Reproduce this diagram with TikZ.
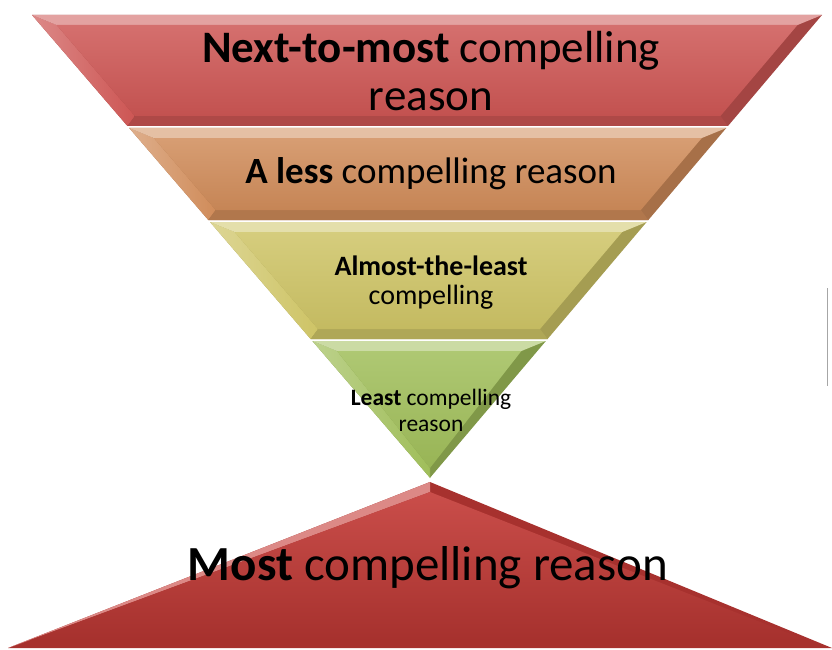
\documentclass[tikz,border=0pt]{standalone}
\usepackage{fontspec}
\setmainfont{Carlito}
\usepackage{tikz}
\usetikzlibrary{calc}
\definecolor{bandred}{RGB}{205,86,84}
\definecolor{bandorange}{RGB}{208,140,90}
\definecolor{bandyellow}{RGB}{206,196,102}
\definecolor{bandgreen}{RGB}{160,190,90}
\definecolor{mostred}{RGB}{196,58,54}
\tikzset{reason/.style={align=center,inner sep=0pt,text=black}}

\begin{document}
\begin{tikzpicture}[x=1pt,y=-1pt]
		\useasboundingbox (0,0) rectangle (832,650);
		% inverted pyramid, one band at a time
		\foreach \yt/\yb/\col in {15/126/bandred,128/220/bandorange,222/339/bandyellow,341/478/bandgreen}{
			\pgfmathsetmacro\xlt{32+0.86*(\yt-15)}
			\pgfmathsetmacro\xrt{822-0.847*(\yt-15)}
			\pgfmathsetmacro\xlb{32+0.86*(\yb-15)}
			\pgfmathsetmacro\xrb{822-0.847*(\yb-15)}
			\pgfmathsetmacro\yit{\yt+10}
			\pgfmathsetmacro\yib{\yb-10}
			\pgfmathsetmacro\xlit{32+0.86*(\yit-15)+16}
			\pgfmathsetmacro\xrit{822-0.847*(\yit-15)-16}
			\pgfmathsetmacro\xlib{min(32+0.86*(\yib-15)+16,430)}
			\pgfmathsetmacro\xrib{max(822-0.847*(\yib-15)-16,430)}
			\fill[\col!80!black] (\xlt,\yt) -- (\xrt,\yt) -- (\xrb,\yb) -- (\xlb,\yb) -- cycle;
			\shade[left color=\col!70!white,right color=\col] (\xlt,\yt) -- (\xlit,\yit) -- (\xlib,\yib) -- (\xlb,\yb) -- cycle;
			\fill[\col!55!white] (\xlt,\yt) -- (\xrt,\yt) -- (\xrit,\yit) -- (\xlit,\yit) -- cycle;
			\fill[\col!85!black] (\xlb,\yb) -- (\xrb,\yb) -- (\xrib,\yib) -- (\xlib,\yib) -- cycle;
			\shade[top color=\col!85!white,bottom color=\col!95!black] (\xlit,\yit) -- (\xrit,\yit) -- (\xrib,\yib) -- (\xlib,\yib) -- cycle;
		}
		% the base
		\fill[mostred!85!black] (430,482) -- (832,648) -- (8,648) -- cycle;
		\fill[mostred!60!white] (430,482) -- (8,648) -- (30,640) -- (430,492) -- cycle;
		\shade[top color=mostred!90!white,bottom color=mostred!85!black] (430,492) -- (806,640) -- (30,640) -- cycle;
		\draw[gray!70,line width=1pt] (827.5,288) -- (827.5,386);
		
		\node[reason,font=\fontsize{45}{48}\selectfont] (nexttomost) at (431,71) {\textbf{Next-to-most} compelling\\reason};
		\node[reason,font=\fontsize{37}{40}\selectfont] (aless) at (431,174) {\textbf{A less} compelling reason};
		\node[reason,font=\fontsize{28}{29}\selectfont] (almost) at (431,283) {\textbf{Almost-the-least}\\compelling};
		\node[reason,font=\fontsize{23.5}{26}\selectfont] (least) at (431,410) {\textbf{Least} compelling\\reason};
		\node[reason,font=\fontsize{49}{52}\selectfont] (most) at (428,568) {\textbf{Most} compelling reason};
	\end{tikzpicture}
\end{document}
